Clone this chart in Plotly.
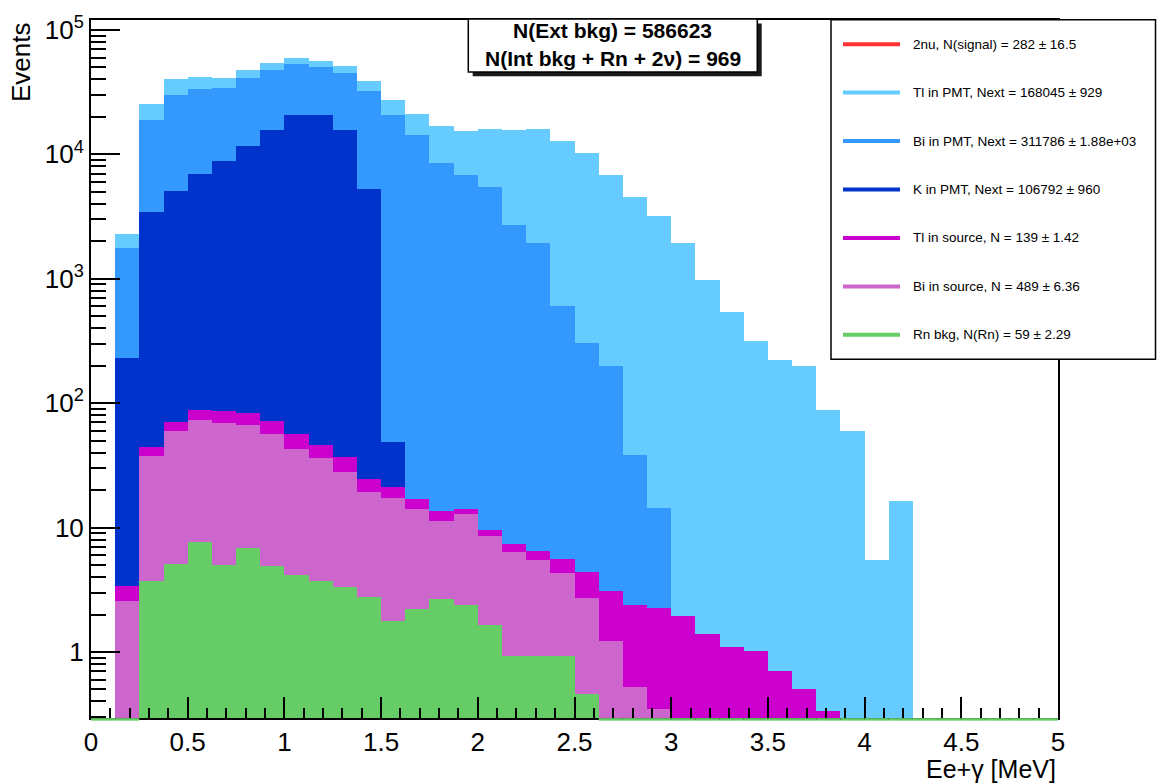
import plotly.graph_objects as go

# ---------------- data ----------------
bin_width = 0.125
n_bins = 40
bin_centers = [bin_width * (i + 0.5) for i in range(n_bins)]

# individual (non-cumulative) histogram contents, 40 bins from 0 to 5 MeV
rn_bkg = [0, 0, 3.73, 5.13, 7.64, 5.03, 6.88, 4.91, 4.17, 3.73, 3.34, 2.78, 1.76, 2.23,
          2.68, 2.40, 1.66, 0.92, 0.92, 0.92, 0.46] + [0] * 19
bi_source = [0, 2.55, 34.0, 54.6, 65.5, 64.1, 60.1, 51.6, 38.7, 32.7, 24.5, 16.4, 15.4,
             11.8, 8.7, 10.4, 6.91, 5.47, 4.59, 3.40, 2.27, 1.22, 0.52, 0.35] + [0] * 16
tl_source = [0, 0.85, 6.6, 10.7, 14.7, 17.1, 16.1, 14.8, 13.6, 9.5, 9.0, 5.5, 4.1, 2.8,
             2.1, 1.4, 1.07, 0.93, 0.93, 1.24, 1.67, 1.88, 1.88, 1.92, 1.93, 1.40, 1.09,
             1.01, 0.70, 0.50, 0.335] + [0] * 9
k_pmt = [0, 229, 3409, 5008, 6851, 8724, 11517, 15699, 20824, 20834, 15733, 5215,
         27.5] + [0] * 27
bi_pmt = [0, 1542, 15597, 25082, 26731, 25480, 29590, 31940, 32110, 29540, 29380, 27030,
          20831, 14183, 8477, 6800, 5425, 2698, 1938, 601, 302, 194, 36.0, 12.0] + [0] * 16
tl_pmt = [0, 503, 6510, 10290, 8290, 6900, 6520, 6260, 6150, 5850, 6190, 6720, 6630,
          7070, 8360, 8666, 10625, 12865, 13916, 12113, 9894, 6617, 4511, 3154, 1953,
          977, 540, 316, 223, 200, 87.0, 59.7, 5.49, 16.2] + [0] * 6

legend_labels = [
    "2nu, N(signal) = 282 \u00b1 16.5",
    "Tl in PMT, Next = 168045 \u00b1 929",
    "Bi in PMT, Next = 311786 \u00b1 1.88e+03",
    "K in PMT, Next = 106792 \u00b1 960",
    "Tl in source, N = 139 \u00b1 1.42",
    "Bi in source, N = 489 \u00b1 6.36",
    "Rn bkg, N(Rn) = 59 \u00b1 2.29",
]
title_lines = ["N(Ext bkg) = 586623", "N(Int bkg + Rn + 2\u03bd) = 969"]
x_tickvals = [0, 0.5, 1, 1.5, 2, 2.5, 3, 3.5, 4, 4.5, 5]
x_ticktext = ["0", "0.5", "1", "1.5", "2", "2.5", "3", "3.5", "4", "4.5", "5"]
y_tickvals = [1, 10, 100, 1000, 10000, 100000]
y_ticktext = ["1", "10", "10<sup>2</sup>", "10<sup>3</sup>", "10<sup>4</sup>", "10<sup>5</sup>"]

# ---------------- style ----------------
C_RED = "#ff3333"
C_TLPMT = "#66ccff"
C_BIPMT = "#3399ff"
C_KPMT = "#0033cc"
C_TLSRC = "#cc00cc"
C_BISRC = "#cc66cc"
C_RN = "#66cc66"
FONT = "Liberation Sans, Arial, Helvetica, sans-serif"

W, H = 1157, 783
ML, MR, MT, MB = 91, 99, 15, 65
PW, PH = W - ML - MR, H - MT - MB


def px(x):
    return (x - ML) / PW


def py(y):
    return (H - MB - y) / PH


fig = go.Figure()

stack = [
    (rn_bkg, C_RN, "Rn bkg"),
    (bi_source, C_BISRC, "Bi in source"),
    (tl_source, C_TLSRC, "Tl in source"),
    (k_pmt, C_KPMT, "K in PMT"),
    (bi_pmt, C_BIPMT, "Bi in PMT"),
    (tl_pmt, C_TLPMT, "Tl in PMT"),
]
for vals, col, name in stack:
    fig.add_trace(go.Bar(
        x=bin_centers, y=vals, width=bin_width, name=name,
        marker=dict(color=col, line=dict(width=0)),
        showlegend=False, hoverinfo="skip",
    ))

shapes = []
annotations = []

# Rn outline drawn at the bottom where the Rn histogram is empty
for xc, v in zip(bin_centers, rn_bkg):
    if v == 0:
        shapes.append(dict(type="line", xref="x", yref="paper",
                           x0=xc - bin_width / 2, x1=xc + bin_width / 2,
                           y0=-0.002, y1=-0.002,
                           line=dict(color=C_RN, width=2.5), layer="above"))

# title box with shadow
shapes.append(dict(type="rect", xref="paper", yref="paper",
                   x0=px(472.7), x1=px(761.7), y0=py(71.7), y1=py(18.4),
                   fillcolor="#1a1a1a", line=dict(width=0), layer="above"))
shapes.append(dict(type="rect", xref="paper", yref="paper",
                   x0=px(468.3), x1=px(757.3), y0=py(67.3), y1=py(14),
                   fillcolor="white", line=dict(color="black", width=1.5), layer="above"))
for txt, yy in zip(title_lines, [25.7, 53.3]):
    annotations.append(dict(text="<b>" + txt + "</b>", xref="paper", yref="paper",
                            x=px(612.8), y=py(yy), xanchor="center", yanchor="middle",
                            showarrow=False, font=dict(family=FONT, size=21, color="black")))

# legend box
shapes.append(dict(type="rect", xref="paper", yref="paper",
                   x0=px(831), x1=px(1155.5), y0=py(356.7), y1=py(14.7),
                   fillcolor="white", line=dict(color="black", width=1.5), layer="above"))
leg_colors = [C_RED, C_TLPMT, C_BIPMT, C_KPMT, C_TLSRC, C_BISRC, C_RN]
for i, (lab, col) in enumerate(zip(legend_labels, leg_colors)):
    yy = 39.3 + 48.8 * i
    shapes.append(dict(type="line", xref="paper", yref="paper",
                       x0=px(843), x1=px(900), y0=py(yy), y1=py(yy),
                       line=dict(color=col, width=4), layer="above"))
    annotations.append(dict(text=lab, xref="paper", yref="paper",
                            x=px(911), y=py(yy), xanchor="left", yanchor="middle",
                            showarrow=False, font=dict(family=FONT, size=13.5, color="black")))

# axis titles
annotations.append(dict(text="Events", xref="paper", yref="paper",
                        x=px(21), y=1.0, xanchor="center", yanchor="top", textangle=-90,
                        showarrow=False, font=dict(family=FONT, size=26, color="black")))
annotations.append(dict(text="Ee+\u03b3 [MeV]", xref="paper", yref="paper",
                        x=1.0, y=py(769), xanchor="right", yanchor="middle",
                        showarrow=False, font=dict(family=FONT, size=25, color="black")))

y_minor = [m * 10 ** k for k in range(-1, 6) for m in range(2, 10)]
y_minor = [v for v in y_minor if 0.29 < v < 1.2e5]

fig.update_layout(
    width=W, height=H,
    margin=dict(l=ML, r=MR, t=MT, b=MB, pad=0),
    paper_bgcolor="white", plot_bgcolor="white",
    barmode="stack", bargap=0, bargroupgap=0,
    showlegend=False,
    shapes=shapes, annotations=annotations,
    font=dict(family=FONT, color="black"),
    xaxis=dict(
        range=[0, 5], showgrid=False, zeroline=False,
        showline=True, linecolor="black", linewidth=2, mirror=True,
        ticks="inside", ticklen=21, tickwidth=1.5, tickcolor="black",
        tickmode="array", tickvals=x_tickvals, ticktext=x_ticktext,
        tickfont=dict(family=FONT, size=26, color="black"),
        minor=dict(ticks="inside", ticklen=10, tickwidth=1.5, tickcolor="black",
                   dtick=0.1, tick0=0, showgrid=False),
    ),
    yaxis=dict(
        type="log", range=[-0.531, 5.08], showgrid=False, zeroline=False,
        showline=True, linecolor="black", linewidth=2, mirror=True,
        ticks="inside", ticklen=29, tickwidth=1.5, tickcolor="black",
        tickmode="array", tickvals=y_tickvals, ticktext=y_ticktext,
        tickfont=dict(family=FONT, size=26, color="black"),
        minor=dict(ticks="inside", ticklen=15, tickwidth=1.5, tickcolor="black",
                   tickmode="array", tickvals=y_minor, showgrid=False),
    ),
)

fig.write_html(
    "out.html",
    config={"displayModeBar": False},
    post_script="document.body.style.margin='0';document.body.style.padding='0';"
                "document.documentElement.style.overflow='hidden';",
)
